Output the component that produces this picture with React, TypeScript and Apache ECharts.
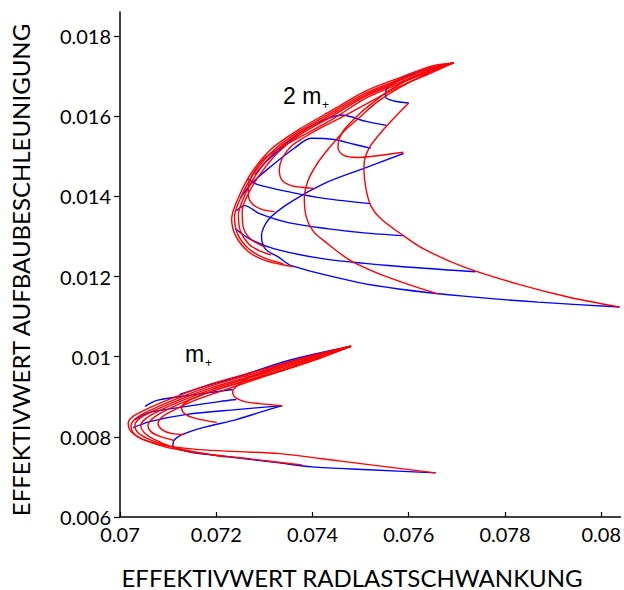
import React, { useEffect, useRef } from "react";
import * as echarts from "echarts";

// Axis ticks
const xTicks = [0.07, 0.072, 0.074, 0.076, 0.078, 0.08];
const yTicks = [0.006, 0.008, 0.01, 0.012, 0.014, 0.016, 0.018];

// ---------- Upper group (2 m+) : red curves ----------
const uR1 = [[0.07693,0.01733],[0.07620,0.01703],[0.07558,0.01663],[0.07527,0.01635],[0.07501,0.01610],[0.07480,0.01585],[0.07465,0.01565],[0.07455,0.01542],[0.07453,0.01520],[0.07465,0.01502],[0.07492,0.01497],[0.07538,0.01502],[0.07589,0.01510]];
const uR2 = [[0.07693,0.01733],[0.07647,0.01708],[0.07579,0.01673],[0.07511,0.01630],[0.07465,0.01600],[0.07424,0.01575],[0.07387,0.01550],[0.07356,0.01525],[0.07337,0.01495],[0.07331,0.01465],[0.07337,0.01440],[0.07356,0.01427],[0.07383,0.01422],[0.07403,0.01420]];
const uR3 = [[0.07693,0.01733],[0.07647,0.01713],[0.07579,0.01680],[0.07511,0.01645],[0.07441,0.01592],[0.07372,0.01547],[0.07331,0.01520],[0.07300,0.01495],[0.07279,0.01462],[0.07267,0.01425],[0.07267,0.01400],[0.07277,0.01379],[0.07296,0.01367],[0.07321,0.01362]];
const uR4 = [[0.07693,0.01733],[0.07647,0.01715],[0.07579,0.01684],[0.07511,0.01650],[0.07441,0.01600],[0.07372,0.01552],[0.07329,0.01510],[0.07294,0.01460],[0.07269,0.01412],[0.07254,0.01364],[0.07256,0.01324],[0.07271,0.01294],[0.07300,0.01274]];
const uR5 = [[0.07693,0.01733],[0.07647,0.01718],[0.07579,0.01688],[0.07511,0.01654],[0.07441,0.01605],[0.07372,0.01557],[0.07325,0.01515],[0.07287,0.01462],[0.07261,0.01407],[0.07246,0.01354],[0.07250,0.01314],[0.07267,0.01282],[0.07290,0.01264],[0.07314,0.01254]];
const uR6 = [[0.07693,0.01733],[0.07647,0.01722],[0.07579,0.01691],[0.07511,0.01658],[0.07441,0.01610],[0.07372,0.01562],[0.07321,0.01517],[0.07281,0.01462],[0.07254,0.01405],[0.07238,0.01349],[0.07244,0.01307],[0.07265,0.01272],[0.07298,0.01247],[0.07339,0.01232]];
const uR7 = [[0.07693,0.01733],[0.07647,0.01725],[0.07579,0.01695],[0.07511,0.01663],[0.07441,0.01615],[0.07372,0.01567],[0.07316,0.01520],[0.07275,0.01462],[0.07248,0.01402],[0.07232,0.01344],[0.07240,0.01302],[0.07267,0.01262],[0.07304,0.01239],[0.07362,0.01224]];
const uRbig = [[0.07693,0.01733],[0.07641,0.01708],[0.07579,0.01670],[0.07534,0.01635],[0.07496,0.01595],[0.07465,0.01562],[0.07434,0.01520],[0.07410,0.01482],[0.07391,0.01440],[0.07383,0.01395],[0.07387,0.01349],[0.07401,0.01314],[0.07426,0.01287],[0.07480,0.01239],[0.07548,0.01202],[0.07610,0.01176],[0.07662,0.01156]];
const uRhook = [[0.07600,0.01633],[0.07573,0.01600],[0.07544,0.01562],[0.07521,0.01527],[0.07509,0.01495],[0.07507,0.01465],[0.07511,0.01420],[0.07521,0.01377],[0.07542,0.01344],[0.07589,0.01302],[0.07631,0.01269],[0.07714,0.01224],[0.07827,0.01181],[0.07931,0.01149],[0.08038,0.01124]];

// ---------- Upper group : blue curves ----------
const uB1 = [[0.07693,0.01733],[0.07631,0.01715],[0.07583,0.01693],[0.07554,0.01668],[0.07552,0.01648],[0.07569,0.01638],[0.07600,0.01633]];
const uB2 = [[0.07281,0.01455],[0.07300,0.01482],[0.07330,0.01515],[0.07372,0.01557],[0.07414,0.01585],[0.07461,0.01603],[0.07511,0.01587],[0.07554,0.01577]];
const uB3 = [[0.07250,0.01395],[0.07273,0.01432],[0.07314,0.01475],[0.07362,0.01520],[0.07397,0.01545],[0.07445,0.01542],[0.07486,0.01530],[0.07521,0.01520]];
const uB4 = [[0.07265,0.01445],[0.07285,0.01430],[0.07356,0.01410],[0.07424,0.01395],[0.07521,0.01382]];
const uB5 = [[0.07242,0.01364],[0.07259,0.01377],[0.07290,0.01357],[0.07352,0.01334],[0.07434,0.01319],[0.07507,0.01309],[0.07589,0.01302]];
const uB6 = [[0.07240,0.01319],[0.07269,0.01294],[0.07321,0.01269],[0.07424,0.01244],[0.07563,0.01227],[0.07738,0.01212]];
const uB7 = [[0.07589,0.01507],[0.07507,0.01470],[0.07424,0.01432],[0.07356,0.01387],[0.07310,0.01344],[0.07294,0.01302],[0.07302,0.01269],[0.07331,0.01247],[0.07356,0.01227],[0.07492,0.01186],[0.07579,0.01169],[0.07714,0.01151],[0.07869,0.01136],[0.08038,0.01124]];

// ---------- Lower group (m+) : red curves ----------
const lR1 = [[0.07480,0.01026],[0.07414,0.01006],[0.07352,0.00986],[0.07300,0.00963],[0.07265,0.00946],[0.07244,0.00928],[0.07234,0.00913],[0.07240,0.00898],[0.07259,0.00888],[0.07290,0.00883],[0.07337,0.00878]];
const lR2 = [[0.07480,0.01026],[0.07403,0.00991],[0.07331,0.00963],[0.07259,0.00938],[0.07196,0.00916],[0.07157,0.00898],[0.07137,0.00886],[0.07128,0.00873],[0.07134,0.00858],[0.07157,0.00846],[0.07201,0.00836]];
const lR3 = [[0.07480,0.01026],[0.07393,0.00988],[0.07294,0.00948],[0.07207,0.00913],[0.07155,0.00891],[0.07114,0.00868],[0.07089,0.00851],[0.07079,0.00833],[0.07087,0.00818],[0.07108,0.00808],[0.07134,0.00806]];
const lR4 = [[0.07480,0.01026],[0.07393,0.00991],[0.07290,0.00951],[0.07196,0.00916],[0.07141,0.00891],[0.07095,0.00866],[0.07068,0.00846],[0.07058,0.00828],[0.07064,0.00813],[0.07083,0.00801],[0.07112,0.00791]];
const lR5 = [[0.07480,0.01026],[0.07393,0.00994],[0.07290,0.00955],[0.07190,0.00918],[0.07130,0.00891],[0.07083,0.00866],[0.07054,0.00846],[0.07043,0.00828],[0.07050,0.00811],[0.07072,0.00793],[0.07108,0.00775],[0.07155,0.00760]];
const lR6 = [[0.07480,0.01026],[0.07393,0.00996],[0.07290,0.00958],[0.07186,0.00921],[0.07124,0.00893],[0.07072,0.00866],[0.07041,0.00846],[0.07031,0.00828],[0.07037,0.00811],[0.07062,0.00793],[0.07099,0.00778],[0.07145,0.00765],[0.07217,0.00750]];
const lR7 = [[0.07480,0.01026],[0.07393,0.00999],[0.07290,0.00962],[0.07186,0.00926],[0.07120,0.00896],[0.07066,0.00868],[0.07033,0.00846],[0.07023,0.00828],[0.07029,0.00808],[0.07054,0.00791],[0.07099,0.00773],[0.07165,0.00760],[0.07269,0.00745],[0.07378,0.00730]];
const lR8 = [[0.07480,0.01026],[0.07393,0.01001],[0.07290,0.00966],[0.07186,0.00931],[0.07118,0.00901],[0.07062,0.00873],[0.07027,0.00851],[0.07017,0.00833],[0.07023,0.00813],[0.07048,0.00793],[0.07093,0.00778],[0.07165,0.00768],[0.07248,0.00763],[0.07331,0.00758],[0.07455,0.00740],[0.07656,0.00710]];

// ---------- Lower group : blue curves ----------
const lB1 = [[0.07480,0.01026],[0.07352,0.00991],[0.07248,0.00951],[0.07176,0.00926],[0.07124,0.00906]];
const lB2 = [[0.07052,0.00876],[0.07077,0.00891],[0.07159,0.00906],[0.07234,0.00918]];
const lB3 = [[0.07031,0.00843],[0.07062,0.00861],[0.07139,0.00876],[0.07207,0.00888],[0.07242,0.00893]];
const lB4 = [[0.07027,0.00823],[0.07062,0.00838],[0.07139,0.00856],[0.07242,0.00868],[0.07337,0.00878]];
const lB5 = [[0.07337,0.00878],[0.07290,0.00861],[0.07242,0.00843],[0.07172,0.00823],[0.07130,0.00806],[0.07112,0.00791],[0.07110,0.00778],[0.07124,0.00768],[0.07165,0.00758],[0.07242,0.00748],[0.07331,0.00735],[0.07399,0.00725],[0.07517,0.00718],[0.07656,0.00710]];

const redCurves = [uR1, uR2, uR3, uR4, uR5, uR6, uR7, uRbig, uRhook, lR1, lR2, lR3, lR4, lR5, lR6, lR7, lR8];
const blueCurves = [uB1, uB2, uB3, uB4, uB5, uB6, uB7, lB1, lB2, lB3, lB4, lB5];

const FONT = "Lato, 'Open Sans', sans-serif";
const LABEL_FONT = "'Liberation Sans', Arial, sans-serif";

export default function App() {
  const ref = useRef<HTMLDivElement>(null);
  useEffect(() => {
    if (!ref.current) return;
    const chart = echarts.init(ref.current, null, { renderer: "svg" });
    const mk = (data: number[][], color: string, name: string) => ({
      name,
      type: "line",
      data,
      showSymbol: false,
      symbol: "none",
      smooth: 0.3,
      silent: true,
      lineStyle: { color, width: 1.4 },
      z: color === "#ff0000" ? 3 : 2,
    });
    chart.setOption({
      animation: false,
      backgroundColor: "#ffffff",
      grid: { left: 120, right: 0, top: 12, bottom: 73, containLabel: false },
      xAxis: {
        type: "value",
        min: 0.07,
        max: 0.0804,
        axisLine: { show: true, lineStyle: { color: "#000", width: 1.5 } },
        axisTick: { show: true, inside: true, length: 5, customValues: xTicks, lineStyle: { color: "#000", width: 1.2 } },
        axisLabel: { customValues: xTicks, fontFamily: FONT, fontSize: 20, color: "#000", margin: 7, formatter: (v: number) => String(+v.toFixed(3)) },
        splitLine: { show: false },
      },
      yAxis: {
        type: "value",
        min: 0.006,
        max: 0.0186,
        axisLine: { show: true, lineStyle: { color: "#000", width: 1.5 } },
        axisTick: { show: true, inside: false, length: 6, customValues: yTicks, lineStyle: { color: "#000", width: 1.2 } },
        axisLabel: { customValues: yTicks, fontFamily: FONT, fontSize: 20, color: "#000", margin: 9, formatter: (v: number) => String(+v.toFixed(3)) },
        splitLine: { show: false },
      },
      graphic: [
        { type: "text", x: 352, y: 577, style: { text: "EFFEKTIVWERT RADLASTSCHWANKUNG", font: `24px ${FONT}`, fill: "#000", align: "center", verticalAlign: "middle" } },
        { type: "text", x: 20, y: 270, rotation: Math.PI / 2, style: { text: "EFFEKTIVWERT AUFBAUBESCHLEUNIGUNG", font: `24px ${FONT}`, fill: "#000", align: "center", verticalAlign: "middle" } },
        { type: "text", x: 283, y: 84, style: { text: "2 m", font: `23px ${LABEL_FONT}`, fill: "#000" } },
        { type: "text", x: 322, y: 99, style: { text: "+", font: `12px ${LABEL_FONT}`, fill: "#000" } },
        { type: "text", x: 185, y: 342, style: { text: "m", font: `23px ${LABEL_FONT}`, fill: "#000" } },
        { type: "text", x: 205, y: 357, style: { text: "+", font: `12px ${LABEL_FONT}`, fill: "#000" } },
      ],
      series: [
        ...blueCurves.map((d, i) => mk(d, "#0000ff", "blue" + i)),
        ...redCurves.map((d, i) => mk(d, "#ff0000", "red" + i)),
      ],
    });
    return () => chart.dispose();
  }, []);
  return <div ref={ref} style={{ position: "fixed", left: 0, top: 0, width: 624, height: 590 }} />;
}
